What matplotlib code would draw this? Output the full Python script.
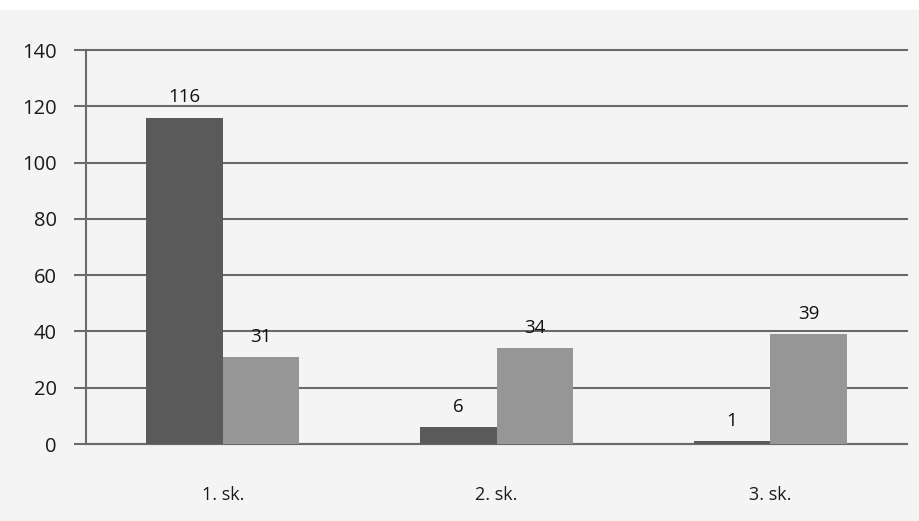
import matplotlib.pyplot as plt
import numpy as np

# data
categories = ['1. sk.', '2. sk.', '3. sk.']
series_a = [116, 6, 1]
series_b = [31, 34, 39]
y_ticks = [0, 20, 40, 60, 80, 100, 120, 140]

plt.rcParams['font.family'] = ['Open Sans', 'DejaVu Sans']

fig = plt.figure(figsize=(9.19, 5.21), dpi=100, facecolor='white')
# light grey chart area below a thin white band
fig.patches.append(plt.Rectangle((0, 0), 1, 1 - 10 / 521, transform=fig.transFigure,
                                 facecolor='#f4f4f4', edgecolor='none', zorder=-1))
ax = fig.add_axes([86 / 919, 77 / 521, (907 - 86) / 919, (444 - 50) / 521])
ax.set_facecolor('#f4f4f4')

x = np.arange(len(categories))
w = 0.28
bars_a = ax.bar(x - w / 2, series_a, width=w, color='#5a5a5a', zorder=3)
bars_b = ax.bar(x + w / 2, series_b, width=w, color='#969696', zorder=3)

for bars in (bars_a, bars_b):
    for b in bars:
        ax.text(b.get_x() + b.get_width() / 2, b.get_height() + 4, str(int(b.get_height())),
                ha='center', va='bottom', fontsize=13.5, color='#111111')

ax.set_xlim(-0.5, 2.5)
ax.set_ylim(0, 140)
ax.set_yticks(y_ticks)
ax.set_xticks(x)
ax.set_xticklabels(categories)
ax.yaxis.grid(True, color='#6a6a6a', linewidth=1.5, zorder=0)
for gl in ax.get_ygridlines():
    gl.set_clip_on(False)
ax.set_axisbelow(True)

for s in ['top', 'right']:
    ax.spines[s].set_visible(False)
ax.spines['left'].set_color('#6a6a6a')
ax.spines['left'].set_linewidth(1.5)
ax.spines['bottom'].set_color('#6a6a6a')
ax.spines['bottom'].set_linewidth(1.5)

ax.tick_params(axis='y', length=9, width=1.5, color='#6a6a6a', labelsize=14.5,
               labelcolor='#1a1a1a', pad=12)
ax.tick_params(axis='x', length=0, labelsize=13, labelcolor='#1a1a1a', pad=30)

fig.savefig('out.png', dpi=100, facecolor=fig.get_facecolor())
